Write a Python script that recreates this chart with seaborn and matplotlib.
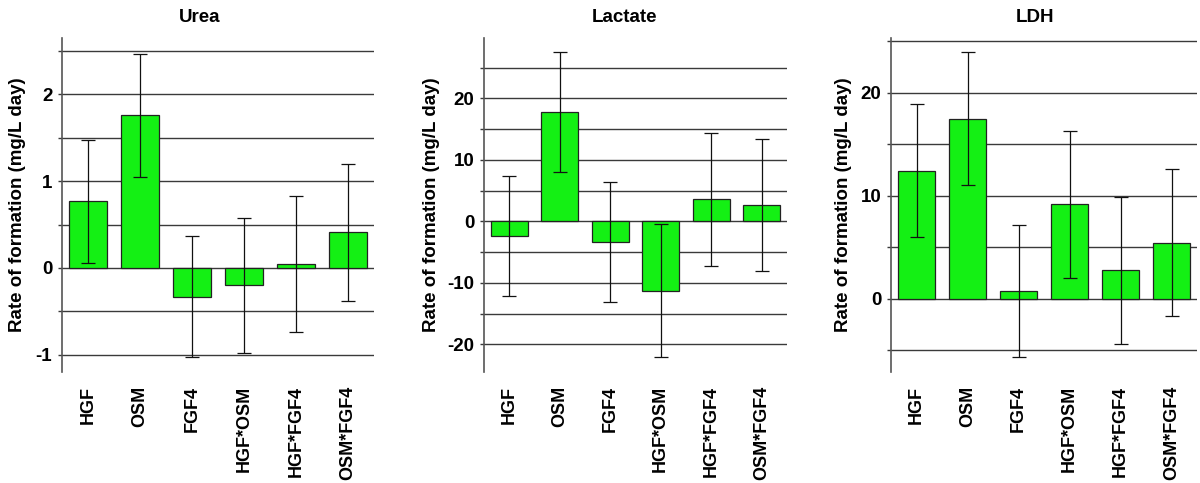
import numpy as np
import pandas as pd
import matplotlib
matplotlib.use("Agg")
import matplotlib.pyplot as plt
import seaborn as sns
from matplotlib.ticker import MultipleLocator, FuncFormatter

sns.set_theme(style="white")
plt.rcParams['font.family'] = ['Liberation Sans', 'DejaVu Sans']
plt.rcParams['font.weight'] = 'bold'
plt.rcParams['text.color'] = 'black'
plt.rcParams['axes.labelcolor'] = 'black'
plt.rcParams['xtick.color'] = 'black'
plt.rcParams['ytick.color'] = 'black'

categories = ["HGF", "OSM", "FGF4", "HGF*OSM", "HGF*FGF4", "OSM*FGF4"]

urea_mean = [0.77, 1.76, -0.33, -0.20, 0.045, 0.41]
urea_err = [0.71, 0.71, 0.70, 0.78, 0.78, 0.79]

lactate_mean = [-2.4, 17.8, -3.3, -11.3, 3.6, 2.6]
lactate_err = [9.7, 9.75, 9.75, 10.8, 10.8, 10.7]

ldh_mean = [12.4, 17.45, 0.72, 9.15, 2.75, 5.45]
ldh_err = [6.45, 6.45, 6.4, 7.1, 7.1, 7.1]

titles = ["Urea", "Lactate", "LDH"]
ylabel = "Rate of formation (mg/L day)"

panels = [
    dict(title="Urea", mean=urea_mean, err=urea_err, ylim=(-1.2, 2.65),
         grid=0.5, label=1.0, rect=[62/1200, 1-372/483, 312/1200, 334/483],
         lx=-0.116, tx=0.442),
    dict(title="Lactate", mean=lactate_mean, err=lactate_err, ylim=(-24.5, 29.8),
         grid=5, label=10, rect=[484/1200, 1-372/483, 303/1200, 334/483],
         lx=-0.145, tx=0.465),
    dict(title="LDH", mean=ldh_mean, err=ldh_err, ylim=(-7.1, 25.3),
         grid=5, label=10, rect=[891/1200, 1-372/483, 306/1200, 334/483],
         lx=-0.128, tx=0.47),
]

fig = plt.figure(figsize=(12, 4.83), dpi=100)
green = "#14F014"
gridc = "#3a3a3a"

for p in panels:
    ax = fig.add_axes(p["rect"])
    df = pd.DataFrame({"cat": categories, "val": p["mean"]})
    sns.barplot(data=df, x="cat", y="val", ax=ax, color=green, saturation=1,
                width=0.74, edgecolor="#222222", linewidth=0.9, errorbar=None, zorder=3)
    ax.errorbar(np.arange(len(categories)), p["mean"], yerr=p["err"], fmt="none",
                ecolor="#111111", elinewidth=0.9, capsize=5, capthick=0.9, zorder=4)
    ax.set_xlim(-0.5, len(categories) - 0.5)
    ax.set_ylim(*p["ylim"])
    step = p["grid"]
    lab = p["label"]
    ax.yaxis.set_major_locator(MultipleLocator(step))
    ax.yaxis.set_major_formatter(FuncFormatter(
        lambda v, pos, lab=lab: (f"{int(round(v))}" if abs(v / lab - round(v / lab)) < 1e-6 else "")))
    ax.grid(axis="y", color=gridc, linewidth=1.0, zorder=0)
    ax.grid(axis="x", visible=False)
    for s in ["top", "right", "bottom"]:
        ax.spines[s].set_visible(False)
    ax.spines["left"].set_color("#555555")
    ax.spines["left"].set_linewidth(1.2)
    ax.tick_params(axis="y", which="major", direction="out", length=3, width=1,
                   color=gridc, labelcolor="black", pad=4, labelsize=13.5, left=True)
    ax.tick_params(axis="x", length=0, pad=10, labelsize=13, rotation=90,
                   labelcolor="black")
    for t in ax.get_yticklabels() + ax.get_xticklabels():
        t.set_fontweight("bold")
    for t in ax.get_xticklabels():
        t.set_va("top")
    ax.set_xlabel("")
    ax.set_ylabel(ylabel, fontsize=13.5, fontweight="bold", color="black")
    ax.yaxis.set_label_coords(p["lx"], 0.5)
    ax.set_title(p["title"], fontsize=13.5, fontweight="bold", x=p["tx"], y=1.06,
                 va="center", pad=0, color="black")
    ax.set_facecolor("white")

fig.savefig("out.png", dpi=100, facecolor="white")
